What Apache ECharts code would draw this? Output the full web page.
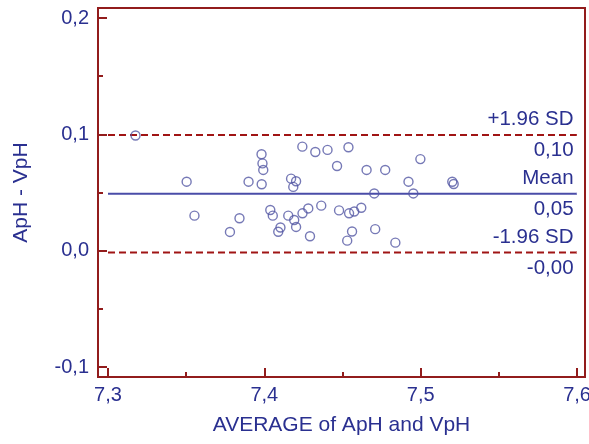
<!DOCTYPE html>
<html>
<head>
<meta charset="utf-8">
<script src="https://cdn.jsdelivr.net/npm/echarts@6/dist/echarts.min.js"></script>
<style>
html,body{margin:0;padding:0;background:#fff;}
#chart{width:589px;height:444px;}
</style>
</head>
<body>
<div id="chart"></div>
<script>
// Average of ApH and VpH
const xValues = [7.3176, 7.3503, 7.3553, 7.3780, 7.3841, 7.3899, 7.3982, 7.3988, 7.3993, 7.3983,
  7.4038, 7.4054, 7.4103, 7.4089, 7.4153, 7.4191, 7.4203, 7.4171, 7.4203, 7.4185,
  7.4243, 7.4244, 7.4281, 7.4292, 7.4326, 7.4364, 7.4404, 7.4465, 7.4478, 7.4538,
  7.4542, 7.4575, 7.4620, 7.4530, 7.4561, 7.4654, 7.4703, 7.4709, 7.4773, 7.4838,
  7.4922, 7.4953, 7.4998, 7.5202, 7.5211];
// Difference ApH - VpH
const yValues = [0.0990, 0.0593, 0.0301, 0.0161, 0.0279, 0.0593, 0.0829, 0.0750, 0.0694, 0.0571,
  0.0350, 0.0301, 0.0199, 0.0163, 0.0301, 0.0264, 0.0204, 0.0619, 0.0597, 0.0548,
  0.0894, 0.0321, 0.0363, 0.0124, 0.0848, 0.0387, 0.0866, 0.0728, 0.0346, 0.0889,
  0.0321, 0.0337, 0.0369, 0.0086, 0.0165, 0.0694, 0.0492, 0.0185, 0.0694, 0.0069,
  0.0593, 0.0492, 0.0787, 0.0592, 0.0573];

const upperLimit = 0.0995;
const meanDiff = 0.049;
const lowerLimit = -0.0015;
const limitNames = ['+1.96 SD', 'Mean', '-1.96 SD'];
const limitValues = [upperLimit, meanDiff, lowerLimit];
const lineSpan = [7.3, 7.6];

const xTicks = [7.3, 7.4, 7.5, 7.6];
const xMinorTicks = [7.35, 7.45, 7.55];
const yTicks = [-0.1, 0, 0.1, 0.2];
const yMinorTicks = [-0.05, 0.05, 0.15];

const xName = 'AVERAGE of ApH and VpH';
const yName = 'ApH - VpH';

const FONT = "'Liberation Sans', Arial, sans-serif";
const TEXT = '#2a3090';
const AXIS = '#921c1c';
const DASH = '#a01414';
const MEANC = '#4a4ca8';
const PT = '#5458a4';

const fmt = (v, d) => v.toFixed(d).replace('.', ',');

const xRange = {min: 7.2936, max: 7.6051};
const yRange = {min: -0.1086, max: 0.2086};

const chart = echarts.init(document.getElementById('chart'));
const pts = xValues.map((x, i) => [x, yValues[i]]);

const limitSeries = limitValues.map((v, i) => ({
  type: 'line',
  xAxisIndex: 0, yAxisIndex: 0,
  data: lineSpan.map(x => [x, v]),
  symbol: 'none',
  silent: true,
  z: 2,
  lineStyle: i === 1
    ? {color: MEANC, width: 2, type: 'solid'}
    : {color: DASH, width: 2, type: [7, 4]}
}));

chart.setOption({
  animation: false,
  backgroundColor: '#fff',
  grid: {left: 98, top: 8, right: 4, bottom: 67, outerBoundsMode: 'none', containLabel: false,
    show: true, borderColor: AXIS, borderWidth: 2, backgroundColor: 'transparent'},
  xAxis: [{
    type: 'value', min: xRange.min, max: xRange.max, position: 'bottom',
    name: xName, nameLocation: 'middle', nameGap: 38,
    nameTextStyle: {color: TEXT, fontSize: 21, fontFamily: FONT},
    axisLine: {show: true, onZero: false, lineStyle: {color: AXIS, width: 2}},
    axisTick: {show: true, inside: true, length: 9, customValues: xTicks, lineStyle: {color: AXIS, width: 2}},
    axisLabel: {show: true, customValues: xTicks, margin: 8, color: TEXT, fontSize: 20, fontFamily: FONT, formatter: v => fmt(v, 1)},
    splitLine: {show: false}
  }, {
    type: 'value', min: xRange.min, max: xRange.max, position: 'bottom', offset: 0,
    axisLine: {show: false, onZero: false},
    axisTick: {show: true, inside: true, length: 5, customValues: xMinorTicks, lineStyle: {color: AXIS, width: 2}},
    axisLabel: {show: false},
    splitLine: {show: false}
  }],
  yAxis: [{
    type: 'value', min: yRange.min, max: yRange.max, position: 'left',
    name: yName, nameLocation: 'middle', nameGap: 66, nameRotate: 90,
    nameTextStyle: {color: TEXT, fontSize: 21, fontFamily: FONT},
    axisLine: {show: true, onZero: false, lineStyle: {color: AXIS, width: 2}},
    axisTick: {show: true, inside: true, length: 9, customValues: yTicks, lineStyle: {color: AXIS, width: 2}},
    axisLabel: {show: true, customValues: yTicks, margin: 9, color: TEXT, fontSize: 20, fontFamily: FONT, formatter: v => fmt(v, 1)},
    splitLine: {show: false}
  }, {
    type: 'value', min: yRange.min, max: yRange.max, position: 'left', offset: 0,
    axisLine: {show: false, onZero: false},
    axisTick: {show: true, inside: true, length: 5, customValues: yMinorTicks, lineStyle: {color: AXIS, width: 2}},
    axisLabel: {show: false},
    splitLine: {show: false}
  }],
  series: [
    ...limitSeries,
    {
      type: 'scatter',
      xAxisIndex: 0, yAxisIndex: 0,
      data: pts,
      symbol: 'circle',
      symbolSize: 9,
      z: 5,
      itemStyle: {color: 'rgba(255,255,255,0)', borderColor: PT, borderWidth: 1.4}
    },
    {
      type: 'scatter',
      xAxisIndex: 0, yAxisIndex: 0,
      data: limitValues.map(v => [lineSpan[1], v]),
      symbolSize: 1,
      silent: true,
      z: 6,
      itemStyle: {color: '#ffffff', opacity: 1},
      label: {
        show: true,
        position: 'left',
        distance: 3,
        color: TEXT,
        opacity: 1,
        fontSize: 20.5,
        fontFamily: FONT,
        formatter: p => '{a|' + limitNames[p.dataIndex] + '}\n{a|' + fmt(limitValues[p.dataIndex], 2) + '}',
        rich: {a: {color: TEXT, fontSize: 20.5, fontFamily: FONT, lineHeight: 31, align: 'right'}}
      }
    }
  ]
});
</script>
</body>
</html>
